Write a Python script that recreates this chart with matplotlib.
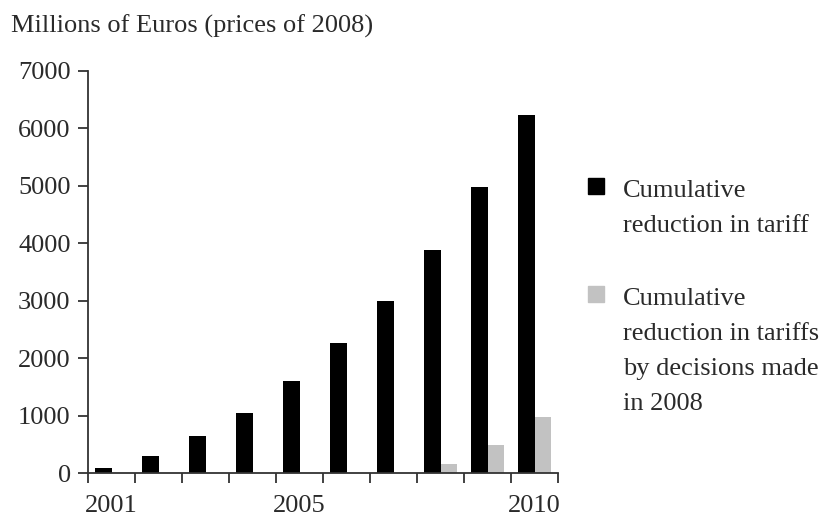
import matplotlib
matplotlib.use("Agg")
import matplotlib.pyplot as plt
from matplotlib.patches import Rectangle
import numpy as np

years = [2001, 2002, 2003, 2004, 2005, 2006, 2007, 2008, 2009, 2010]
total_reduction = [90, 300, 640, 1050, 1600, 2270, 2990, 3880, 4980, 6230]
decisions_2008 = [0, 0, 0, 0, 0, 0, 0, 160, 490, 980]
labelled_years = [2001, 2005, 2010]
y_ticks = [0, 1000, 2000, 3000, 4000, 5000, 6000, 7000]
legend_labels = ["Cumulative\nreduction in tariff",
                 "Cumulative\nreduction in tariffs\nby decisions made\nin 2008"]
title = "Millions of Euros (prices of 2008)"

BLACK = "#000000"
GREY = "#c2c2c2"
TXT = "#2a2a2a"
FS = 19
W, H = 830, 521
plt.rcParams["font.family"] = ["Liberation Serif", "DejaVu Serif"]

fig = plt.figure(figsize=(W/100, H/100), dpi=100)
ax = fig.add_axes([88/W, 1-473/H, (558-88)/W, (473-71)/H])

x = np.arange(len(years))
w = 0.35
ax.bar(x - w/2, total_reduction, width=w, color=BLACK, zorder=2)
ax.bar(x + w/2, decisions_2008, width=w, color=GREY, zorder=2)

ax.set_xlim(-0.5, len(years) - 0.5)
ax.set_ylim(0, 7000)
ax.set_yticks(y_ticks)
ax.set_yticklabels([str(v) for v in y_ticks], fontsize=FS, color=TXT)

ax.set_xticks(np.arange(-0.5, len(years), 1.0))
ax.set_xticklabels([])
ax.set_xticks([years.index(y) for y in labelled_years], minor=True)
ax.set_xticklabels([str(y) for y in labelled_years], minor=True, fontsize=FS, color=TXT)
ax.tick_params(axis="x", which="major", length=7, width=1.3, color="#333333", direction="out")
ax.tick_params(axis="x", which="minor", length=0, pad=16)
ax.tick_params(axis="y", length=7, width=1.3, color="#333333", pad=5.5)

for s in ["top", "right"]:
    ax.spines[s].set_visible(False)
for s in ["left", "bottom"]:
    ax.spines[s].set_linewidth(1.3)
    ax.spines[s].set_color("#333333")

fig.text(11/W, 1-33/H, title, fontsize=FS, color=TXT, va="baseline", ha="left")

# legend (square + lines of text, placed by baseline)
colors = [BLACK, GREY]
first_baselines = [197, 305]
line_step = 35
sq = 16
for lab, col, base in zip(legend_labels, colors, first_baselines):
    fig.patches.append(Rectangle((588/W, 1-(base-3)/H), sq/W, sq/H,
                                 transform=fig.transFigure, color=col, figure=fig))
    for k, line in enumerate(lab.split("\n")):
        fig.text(623/W, 1-(base + k*line_step)/H, line, fontsize=FS, color=TXT,
                 va="baseline", ha="left")

fig.savefig("out.png", dpi=100)
